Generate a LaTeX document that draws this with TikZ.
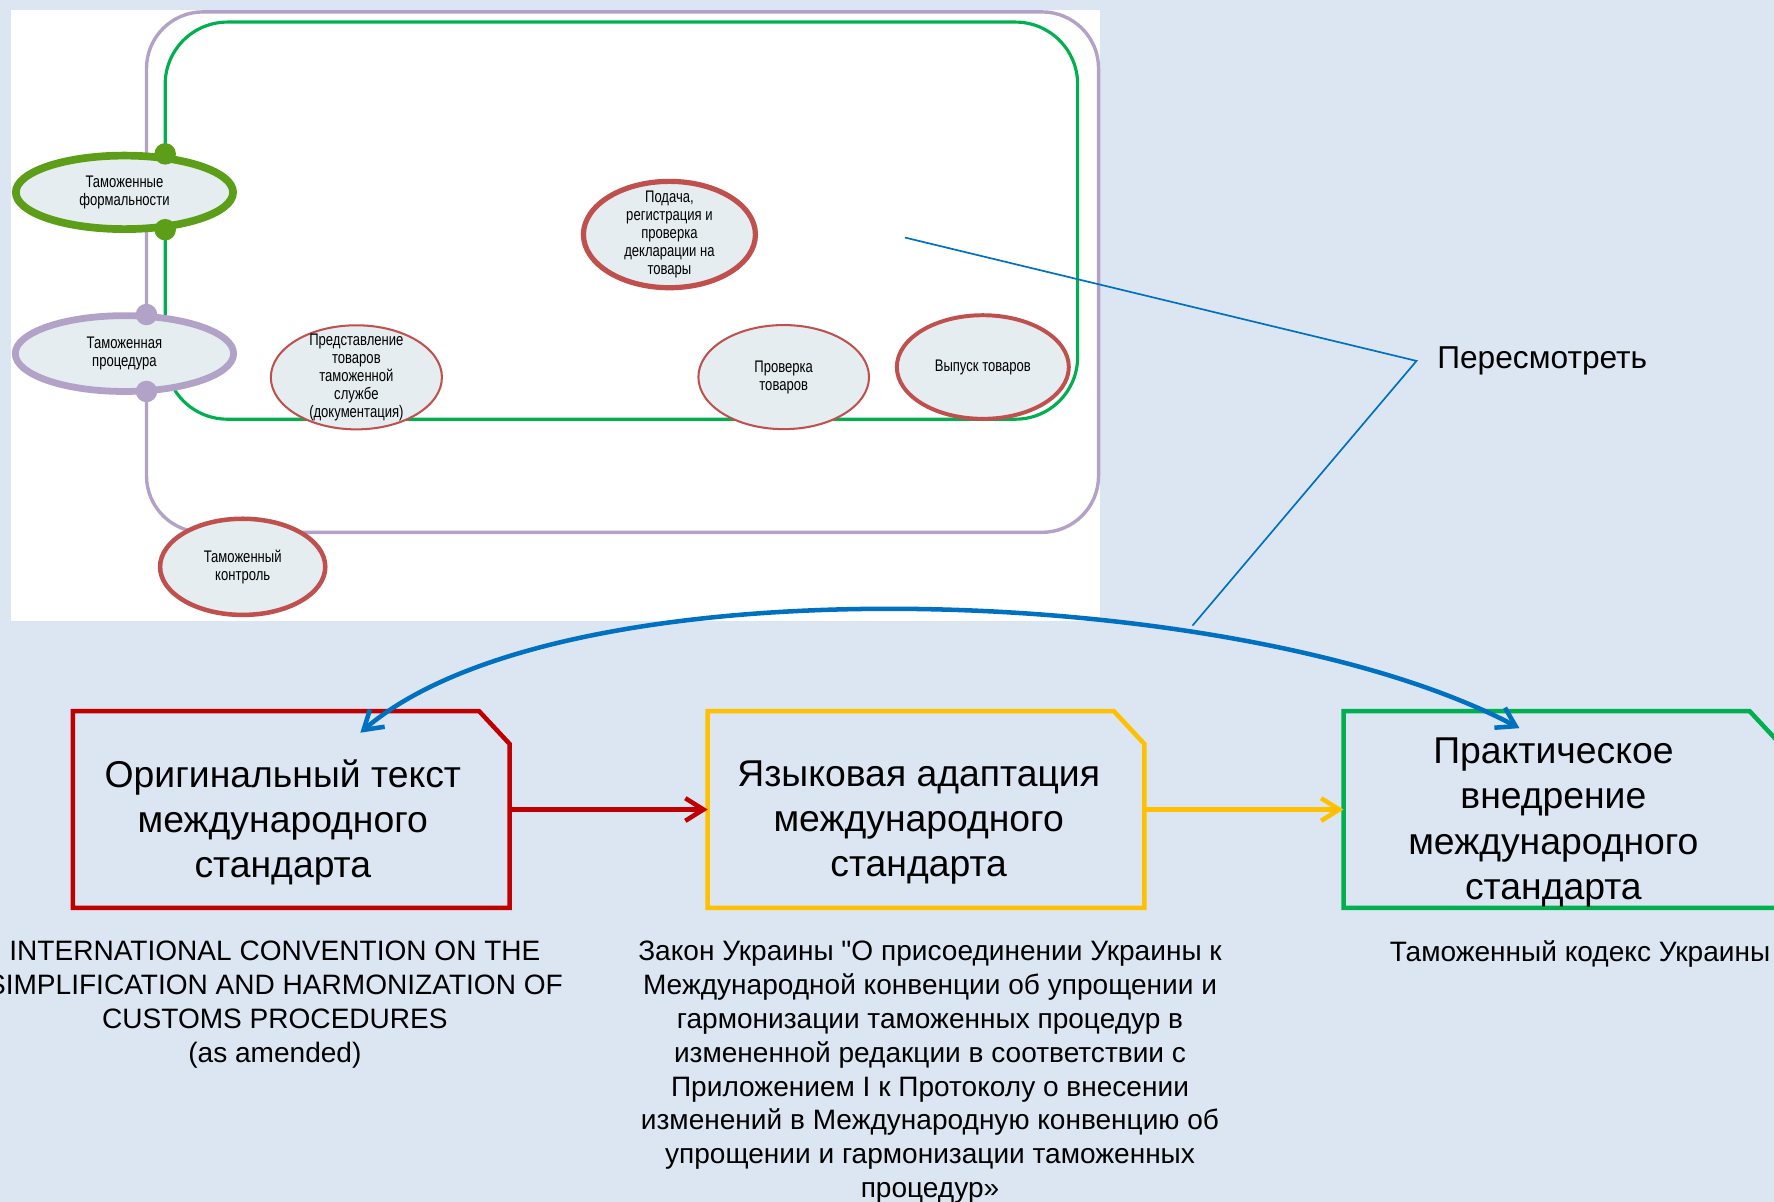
\documentclass[tikz,border=0pt]{standalone}
\usepackage{fontspec}
\setmainfont{Liberation Sans}
\newfontfamily\narrowfont{Liberation Sans}[FakeStretch=0.78]
\usepackage{tikz}
\usetikzlibrary{arrows.meta,shapes.geometric}
\definecolor{slide}{HTML}{DCE6F2}
\definecolor{lilac}{HTML}{B3A2C7}
\definecolor{frame}{HTML}{00B050}
\definecolor{grass}{HTML}{5C9E18}
\definecolor{brick}{HTML}{C0504D}
\definecolor{pale}{HTML}{E5EDF0}
\definecolor{docred}{HTML}{C00000}
\definecolor{docyel}{HTML}{FFC000}
\definecolor{docgrn}{HTML}{00B050}
\definecolor{link}{HTML}{0070C0}

\begin{document}
\begin{tikzpicture}[
  x=0.5pt, y=-0.5pt,
  ell/.style={ellipse,draw=brick,fill=pale,inner sep=0pt},
  elltxt/.style={align=center,inner sep=0pt,font=\narrowfont\fontsize{7.4}{8}\selectfont},
  dotg/.style={circle,fill=grass,inner sep=0pt,minimum size=9.5pt},
  dotl/.style={circle,fill=lilac,inner sep=0pt,minimum size=9.5pt},
  doc/.style={rectangle,inner sep=0pt,minimum width=192.6pt,minimum height=86.5pt},
  doctxt/.style={align=center,inner sep=0pt,font=\fontsize{16.5}{20}\selectfont},
  note/.style={align=center,inner sep=0pt,anchor=north,font=\fontsize{12.4}{15}\selectfont},
  flow/.style={line width=2pt,-{Straight Barb[length=8pt,width=10pt]}},
  revline/.style={draw=link,line width=0.75pt}
]
\useasboundingbox (0,0) rectangle (1568,1062);
\fill[slide] (0,0) rectangle (1568,1062);
\fill[white] (9.5,8.7) rectangle (972,548.6);
\draw[lilac,line width=1.5pt,rounded corners=25pt] (129.5,10.5) rectangle (971,470.5);
\draw[frame,line width=1.4pt,rounded corners=27.5pt] (146,19.5) rectangle (952.5,370.5);

% stages of the procedure
\node[ell,draw=grass,line width=3.4pt,minimum width=96pt,minimum height=32.5pt] (formal) at (110,170) {};
\node[ell,draw=lilac,line width=3pt,minimum width=96.5pt,minimum height=33.5pt] (proc) at (110,312.5) {};
\node[ell,line width=0.9pt,minimum width=75.6pt,minimum height=46pt] (present) at (315,333.5) {};
\node[ell,line width=2.3pt,minimum width=76pt,minimum height=47pt] (submit) at (591.7,207.3) {};
\node[ell,line width=0.9pt,minimum width=75.4pt,minimum height=46pt] (inspect) at (692.7,333.3) {};
\node[ell,line width=1.75pt,minimum width=76pt,minimum height=45.8pt] (release) at (868.7,324.4) {};
\node[ell,line width=2pt,minimum width=73pt,minimum height=42.5pt] (control) at (214.5,501) {};
\node[dotg] (formtop) at (146,136) {};
\node[dotg] (formbot) at (146,203) {};
\node[dotl] (proctop) at (129.5,278) {};
\node[dotl] (procbot) at (129.5,346) {};

\node[elltxt] (formaltxt) at (formal) {Таможенные\\формальности};
\node[elltxt] (proctxt) at (proc) {Таможенная\\процедура};
\node[elltxt] (presenttxt) at (present) {Представление\\товаров\\таможенной\\службе\\(документация)};
\node[elltxt] (submittxt) at (submit) {Подача,\\регистрация и\\проверка\\декларации на\\товары};
\node[elltxt] (inspecttxt) at (inspect) {Проверка\\товаров};
\node[elltxt] (releasetxt) at (release) {Выпуск товаров};
\node[elltxt] (controltxt) at (control) {Таможенный\\контроль};

% documents
\node[doc] (orig) at (257.5,715.5) {};
\node[doc] (adapt) at (818.5,715.5) {};
\node[doc] (impl) at (1380.5,715.5) {};
\draw[docred,line width=2pt] (orig.south west) -- (orig.north west) -- ([xshift=-13.5pt]orig.north east) -- ([yshift=-14.5pt]orig.north east) -- (orig.south east) -- cycle;
\draw[docyel,line width=2pt] (adapt.south west) -- (adapt.north west) -- ([xshift=-13.5pt]adapt.north east) -- ([yshift=-14.5pt]adapt.north east) -- (adapt.south east) -- cycle;
\draw[docgrn,line width=2pt] (impl.south west) -- (impl.north west) -- ([xshift=-13.5pt]impl.north east) -- ([yshift=-14.5pt]impl.north east) -- (impl.south east) -- cycle;
\node[doctxt] (origtxt) at (250,727) {Оригинальный текст\\международного\\стандарта};
\node[doctxt] (adapttxt) at (812,727) {Языковая адаптация\\международного\\стандарта};
\node[doctxt] (impltxt) at (1373,727) {Практическое\\внедрение\\международного\\стандарта};

\draw[flow,docred] (orig.east) -- (adapt.west);
\draw[flow,docyel] (adapt.east) -- (impl.west);
\draw[link,line width=2pt,{Straight Barb[length=8pt,width=10pt]}-{Straight Barb[length=8pt,width=10pt]}]
  ([xshift=30.5pt,yshift=-9.5pt]orig.north) .. controls (500,492) and (1100,515) .. ([xshift=-18.75pt,yshift=-7.5pt]impl.north);

% revision note
\node[inner sep=0pt,anchor=west,font=\fontsize{14}{16}\selectfont] (revise) at (1270,319) {Пересмотреть};
\coordinate (revsrc) at (800,210);
\coordinate (revarc) at (1054,553);
\draw[revline] (revsrc) -- ([xshift=-9pt]revise.west) -- (revarc);

\node[note] (convtxt) at (243,831) {INTERNATIONAL CONVENTION ON THE\\SIMPLIFICATION AND HARMONIZATION OF\\CUSTOMS PROCEDURES\\(as amended)};
\node[note] (lawtxt) at (822,831) {Закон Украины \textquotedbl О присоединении Украины к\\Международной конвенции об упрощении и\\гармонизации таможенных процедур в\\измененной редакции в соответствии с\\Приложением I к Протоколу о внесении\\изменений в Международную конвенцию об\\упрощении и гармонизации таможенных\\процедур»};
\node[note] (codetxt) at (1396.5,831) {Таможенный кодекс Украины};
\end{tikzpicture}
\end{document}
